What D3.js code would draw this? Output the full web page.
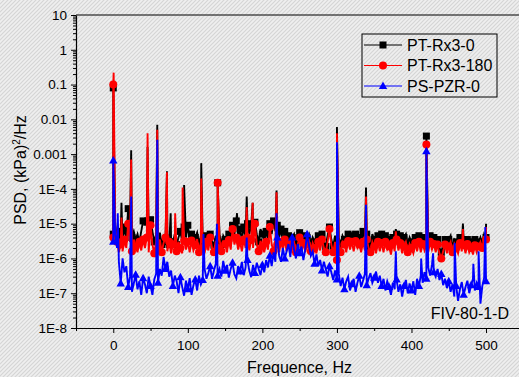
<!DOCTYPE html>
<html>
<head>
<meta charset="utf-8">
<script src="https://cdn.jsdelivr.net/npm/d3@7"></script>
<style>
  body { margin: 0; }
  svg { display: block; font-family: "Liberation Sans", Arial, sans-serif; }
</style>
</head>
<body>
<svg width="519" height="377"></svg>
<script>
// spectra sampled every 2.5 Hz from 0 to 500 Hz, one row = 50 Hz
const freqStep = 2.5;

const seriesNames = ["PT-Rx3-0", "PT-Rx3-180", "PS-PZR-0"];
const seriesColors = ["#000000", "#ff0000", "#0000ff"];
const seriesSymbols = ["square", "circle", "triangle"];
const markerEvery = [2, 2, 4];

const blackBase = [
  5e-6, 1e-5, 4e-6, 2.5e-6, 6e-6, 3e-6, 8e-6, 4e-6, 2.7e-5, 8e-6, 4e-6, 6e-6, 3.5e-6, 5e-6, 3e-6, 6e-6, 1.2e-5, 1.4e-5, 1.1e-5, 5e-6,
  1.3e-5, 6e-6, 3e-6, 5e-6, 3e-6, 5.5e-6, 2.5e-6, 4.5e-6, 3e-6, 5e-6, 2.5e-6, 4e-6, 3e-6, 5e-6, 2.5e-6, 4e-6, 6e-6, 3e-6, 8e-6, 4e-6,
  9e-6, 3.5e-6, 5e-6, 2.5e-6, 4e-6, 5.5e-6, 2.5e-6, 4.5e-6, 3e-6, 2.2e-6, 4.5e-6, 2.5e-6, 5e-6, 3e-6, 2.4e-6, 4.5e-6, 3e-6, 5e-6, 2.5e-6, 4.5e-6,
  3.5e-6, 2.5e-6, 5e-6, 3e-6, 9e-6, 5e-6, 1.2e-5, 4e-6, 7e-6, 3.5e-6, 8e-6, 4e-6, 1e-5, 5e-6, 9e-6, 4e-6, 1.1e-5, 5e-6, 3e-6, 7e-6,
  5e-6, 3e-6, 6e-6, 3.5e-6, 1e-5, 5e-6, 1.2e-5, 6e-6, 9e-6, 4e-6, 7e-6, 3e-6, 6e-6, 3e-6, 4.5e-6, 2.5e-6, 4e-6, 5e-6, 2.5e-6, 4e-6,
  5.5e-6, 2.5e-6, 4.5e-6, 2.2e-6, 4e-6, 5e-6, 2.5e-6, 4e-6, 3e-6, 2e-6, 4.5e-6, 2.5e-6, 5e-6, 3e-6, 2.2e-6, 4.5e-6, 8e-6, 3.5e-6, 2.2e-6, 4.5e-6,
  2e-6, 4e-6, 2.5e-6, 4.5e-6, 3.5e-6, 2.5e-6, 5e-6, 3e-6, 4.5e-6, 2.5e-6, 5e-6, 3e-6, 4e-6, 2.2e-6, 6e-6, 3e-6, 5e-6, 3e-6, 2.2e-6, 5e-6,
  3.5e-6, 2.2e-6, 4.5e-6, 2.5e-6, 5e-6, 2.5e-6, 4.5e-6, 3e-6, 3.5e-6, 2e-6, 4e-6, 2.5e-6, 5e-6, 3e-6, 4.5e-6, 2e-6, 4e-6, 5e-6, 2.5e-6, 4e-6,
  3e-6, 1.5e-6, 4e-6, 2.5e-6, 4.5e-6, 2.2e-6, 4e-6, 2.5e-6, 4e-6, 2.2e-6, 4.5e-6, 2.5e-6, 4e-6, 2.2e-6, 3.5e-6, 2e-6, 1.5e-6, 2.5e-6, 3.5e-6, 1.8e-6,
  3.5e-6, 4.5e-6, 2e-6, 3.5e-6, 3e-6, 1.8e-6, 4e-6, 2.2e-6, 3.5e-6, 2e-6, 3.5e-6, 1.6e-6, 3e-6, 1.5e-6, 3.5e-6, 2e-6, 3e-6, 4e-6, 2.5e-6, 5e-6,
  4e-6
];

const redBase = [
  4e-6, 8e-6, 3e-6, 1.5e-6, 2.5e-6, 1.6e-6, 3.5e-6, 2e-6, 1e-5, 3e-6, 1.6e-6, 3.5e-6, 2.2e-6, 1.5e-6, 3e-6, 1.7e-6, 3.5e-6, 2e-6, 4e-6, 1.5e-6,
  9e-6, 2.5e-6, 1.4e-6, 3e-6, 1.8e-6, 3.5e-6, 1.5e-6, 2.8e-6, 4e-6, 1.6e-6, 3e-6, 1.4e-6, 2.5e-6, 3.5e-6, 1.6e-6, 3e-6, 2e-6, 1.4e-6, 3.2e-6, 1.8e-6,
  3e-6, 1.5e-6, 3.3e-6, 1.7e-6, 2.4e-6, 3.6e-6, 1.5e-6, 3e-6, 2e-6, 1.4e-6, 3e-6, 1.7e-6, 4e-6, 2e-6, 1.5e-6, 3.2e-6, 2e-6, 3.5e-6, 1.6e-6, 3e-6,
  2.6e-6, 1.5e-6, 3.4e-6, 1.8e-6, 7e-6, 2.5e-6, 4e-6, 1.8e-6, 3e-6, 1.6e-6, 3.5e-6, 2e-6, 4e-6, 1.7e-6, 3.4e-6, 2e-6, 1e-5, 2.5e-6, 1.6e-6, 3.2e-6,
  2.2e-6, 1.5e-6, 3e-6, 1.8e-6, 8e-6, 2.5e-6, 1.6e-6, 3.5e-6, 2.5e-6, 1.5e-6, 3e-6, 1.8e-6, 3.5e-6, 1.6e-6, 2.8e-6, 1.4e-6, 2.2e-6, 3e-6, 1.5e-6, 2.6e-6,
  4e-6, 1.6e-6, 2.8e-6, 1.5e-6, 2.5e-6, 3.2e-6, 1.6e-6, 2.8e-6, 2e-6, 1.4e-6, 3e-6, 1.7e-6, 3.5e-6, 2e-6, 1.5e-6, 3e-6, 7e-6, 2.5e-6, 1.5e-6, 3e-6,
  9e-7, 2.5e-6, 1.5e-6, 3e-6, 2.5e-6, 1.5e-6, 3.2e-6, 1.8e-6, 3e-6, 1.6e-6, 3.2e-6, 2e-6, 2.5e-6, 1.5e-6, 3e-6, 1.7e-6, 3.5e-6, 2e-6, 1.5e-6, 3e-6,
  2.2e-6, 1.4e-6, 3e-6, 1.6e-6, 2.8e-6, 1.5e-6, 3e-6, 1.8e-6, 2.2e-6, 1.3e-6, 2.8e-6, 1.6e-6, 3.5e-6, 1.7e-6, 2.8e-6, 1.4e-6, 2.2e-6, 3e-6, 1.5e-6, 2.6e-6,
  2e-6, 1.4e-6, 2.8e-6, 1.6e-6, 3e-6, 1.5e-6, 2.6e-6, 1.7e-6, 2.5e-6, 1.5e-6, 3e-6, 1.8e-6, 2.6e-6, 1.5e-6, 2.5e-6, 1.4e-6, 1e-6, 1.6e-6, 2.5e-6, 1.4e-6,
  2.2e-6, 3e-6, 1.5e-6, 2.6e-6, 2e-6, 1.4e-6, 2.8e-6, 1.6e-6, 2.4e-6, 1.4e-6, 2.6e-6, 1.5e-6, 2e-6, 1.3e-6, 2.4e-6, 1.5e-6, 2.2e-6, 3e-6, 2e-6, 4e-6,
  3.5e-6
];

const blueBase = [
  3e-6, 5e-6, 2e-6, 8e-7, 1.9e-7, 1e-6, 4e-7, 6e-7, 1.5e-7, 3e-7, 1.1e-7, 1.9e-7, 3.4e-7, 1.3e-7, 2.2e-7, 9e-8, 2.7e-7, 1.8e-7, 1e-7, 3e-7,
  1.6e-7, 9e-8, 2.5e-7, 3.6e-7, 2e-7, 5e-7, 3.2e-7, 1.1e-6, 5e-7, 8e-7, 3e-7, 4.5e-7, 1.6e-7, 3.2e-7, 2.2e-7, 1e-7, 2.9e-7, 1.5e-7, 8.5e-8, 2.3e-7,
  1.3e-7, 2.7e-7, 9e-8, 1.7e-7, 2.5e-7, 1.2e-7, 3.2e-7, 1.8e-7, 2.4e-7, 5e-7, 2.6e-7, 3.8e-7, 6e-7, 2.6e-7, 4.4e-7, 7e-7, 3.2e-7, 5e-7, 3e-7, 8.5e-7,
  4.4e-7, 6.5e-7, 2.8e-7, 5e-7, 7.5e-7, 3.5e-7, 2.7e-7, 6e-7, 4.2e-7, 8e-7, 3.3e-7, 5.5e-7, 9e-7, 4.4e-7, 2.9e-7, 6.5e-7, 3.8e-7, 7.5e-7, 5e-7, 3.3e-7,
  6.5e-7, 4e-7, 9e-7, 5.5e-7, 1.2e-6, 6e-7, 1.5e-6, 8e-7, 4e-6, 1.2e-6, 8e-7, 2e-6, 1e-6, 1.6e-6, 2.6e-6, 1.1e-6, 4e-6, 1.8e-6, 1e-6, 2.6e-6,
  1.4e-6, 2.2e-6, 9e-7, 1.8e-6, 5e-6, 2.4e-6, 1.2e-6, 1.6e-6, 7e-7, 1.3e-6, 6e-7, 9e-7, 4.5e-7, 8e-7, 5e-7, 3e-7, 6e-7, 4e-7, 2.4e-7, 4.5e-7,
  2.5e-7, 3.6e-7, 1.6e-7, 2.8e-7, 1.3e-7, 2.2e-7, 3e-7, 1.2e-7, 1.8e-7, 2.6e-7, 1.1e-7, 2e-7, 3.2e-7, 1.5e-7, 2.3e-7, 3.6e-7, 1.7e-7, 2.6e-7, 3.8e-7, 2e-7,
  2.8e-7, 4.2e-7, 2e-7, 3.2e-7, 1.6e-7, 2.6e-7, 1.2e-7, 2.2e-7, 1.5e-7, 9e-8, 2e-7, 1.3e-7, 2.5e-7, 1.1e-7, 1.8e-7, 8e-8, 1.6e-7, 2.4e-7, 1e-7, 1.9e-7,
  1.2e-7, 2.2e-7, 9e-8, 2.6e-7, 1.6e-7, 3.2e-7, 2e-7, 4e-7, 2.6e-7, 5.5e-7, 3.2e-7, 6.5e-7, 4e-7, 3e-7, 5e-7, 2.4e-7, 3.6e-7, 1.7e-7, 2.6e-7, 1.4e-7,
  2.2e-7, 1.1e-7, 1.8e-7, 8e-8, 1.6e-7, 6e-8, 1.3e-7, 2.1e-7, 9e-8, 1.5e-7, 2.3e-7, 1e-7, 1.7e-7, 2.6e-7, 1.2e-7, 2e-7, 1.5e-7, 5e-8, 1.6e-7, 2.8e-7,
  2.2e-7
];

// narrow spectral peaks: [Hz, PSD, has symbol]
const blackPeaks = [
  [0, 0.08, true], [11, 4e-5], [24, 1.3e-3], [46, 1.6e-3], [59, 7e-3], [72, 3.2e-4], [77, 2e-5],
  [95, 1.3e-4], [118, 5.5e-4], [140, 1.5e-4, true], [166, 2e-5], [179, 6e-5], [187, 4e-5],
  [219, 9e-5], [300, 6e-3], [339, 1.1e-4], [379, 7e-6], [420, 3.3e-3, true], [469, 1e-5], [500, 1e-5]
];
const redPeaks = [
  [0, 0.1, true], [0.5, 0.22], [11, 1.5e-5], [24, 7e-4], [46, 4e-3], [59, 5e-3], [72, 3e-4],
  [83, 2e-5], [93, 1.1e-4], [118, 2e-4], [140, 1.5e-4, true], [179, 3e-5], [187, 4e-5],
  [219, 8e-5], [300, 4e-3], [339, 6e-5], [379, 6e-6], [420, 1.9e-3, true], [469, 7e-6], [500, 8e-6]
];
const bluePeaks = [
  [0, 6.6e-4, true], [0.5, 3e-4], [6, 2e-5], [24, 6e-5], [59, 2.6e-3], [121, 5e-6], [139, 1e-5],
  [179, 4e-6], [219, 2e-5], [300, 2.2e-3], [339, 3.5e-5], [379, 1.6e-6], [413, 1e-6],
  [420, 1.2e-3, true], [429, 1.4e-6], [458, 2.8e-6], [483, 7e-7], [490, 1.6e-6], [499, 8e-6]
];

const xTicks = [0, 100, 200, 300, 400, 500];
const yTicks = [1e-8, 1e-7, 1e-6, 1e-5, 1e-4, 1e-3, 1e-2, 0.1, 1, 10];
const yTickLabels = ["1E-8", "1E-7", "1E-6", "1E-5", "1E-4", "0.001", "0.01", "0.1", "1", "10"];

const $svg = d3.select("svg");
const width = +$svg.attr("width");
const height = +$svg.attr("height");

const plotLeft = 76, plotRight = 523.3, plotTop = 15, plotBottom = 328;
const x = d3.scaleLinear().domain([-50, 550]).range([plotLeft, plotRight]);
const y = d3.scaleLog().domain([1e-8, 10]).range([plotBottom, plotTop]);

// hatched background
const defs = $svg.append("defs");
const pat = defs.append("pattern")
  .attr("id", "hatch")
  .attr("width", 4).attr("height", 4)
  .attr("patternUnits", "userSpaceOnUse");
pat.append("rect").attr("width", 4).attr("height", 4).attr("fill", "#efefef");
pat.append("path")
  .attr("d", "M-1,1 L1,-1 M0,4 L4,0 M3,5 L5,3")
  .attr("stroke", "#d5d5d5")
  .attr("stroke-width", 1.2);
defs.append("clipPath").attr("id", "plotClip")
  .append("rect")
  .attr("x", plotLeft).attr("y", plotTop)
  .attr("width", plotRight - plotLeft).attr("height", plotBottom - plotTop);

$svg.append("rect").attr("width", width).attr("height", height).attr("fill", "url(#hatch)");

function buildPoints(base, peaks, every) {
  const pts = base.map((v, i) => ({ f: i * freqStep, v: v, m: i % every === 0, p: 0 }));
  peaks.forEach(pk => pts.push({ f: pk[0], v: pk[1], m: !!pk[2], p: 1 }));
  pts.sort((a, b) => a.f - b.f || a.p - b.p);
  return pts;
}

const seriesData = [
  buildPoints(blackBase, blackPeaks, markerEvery[0]),
  buildPoints(redBase, redPeaks, markerEvery[1]),
  buildPoints(blueBase, bluePeaks, markerEvery[2])
];

const line = d3.line().x(d => x(d.f)).y(d => y(d.v));

function drawSymbol(sel, kind, color) {
  if (kind === "square") {
    sel.append("rect").attr("x", -3.5).attr("y", -3.5).attr("width", 7).attr("height", 7).attr("fill", color);
  } else if (kind === "circle") {
    sel.append("circle").attr("r", 4).attr("fill", color);
  } else {
    sel.append("path").attr("d", "M0,-4.5L4.2,3L-4.2,3Z").attr("fill", color);
  }
}

const plotG = $svg.append("g").attr("clip-path", "url(#plotClip)");

seriesData.forEach((pts, si) => {
  const g = plotG.append("g").attr("class", "series");
  g.append("path")
    .datum(pts)
    .attr("d", line)
    .attr("fill", "none")
    .attr("stroke", seriesColors[si])
    .attr("stroke-width", 1.9)
    .attr("stroke-linejoin", "miter");
  g.selectAll("g.mk")
    .data(pts.filter(d => d.m))
    .enter()
    .append("g")
    .attr("class", "mk")
    .attr("transform", d => `translate(${x(d.f)},${y(d.v)})`)
    .each(function () { drawSymbol(d3.select(this), seriesSymbols[si], seriesColors[si]); });
});

// axes
const minorY = [];
yTicks.slice(0, -1).forEach(t => { for (let k = 2; k <= 9; k++) minorY.push(t * k); });

$svg.append("g")
  .attr("transform", `translate(${plotLeft},0)`)
  .call(d3.axisLeft(y).tickValues(minorY).tickSize(3).tickFormat("").tickSizeOuter(0))
  .call(g => g.select(".domain").remove());

const yAxis = $svg.append("g")
  .attr("transform", `translate(${plotLeft},0)`)
  .call(d3.axisLeft(y).tickValues(yTicks).tickFormat((d, i) => yTickLabels[i]).tickSize(5).tickPadding(4).tickSizeOuter(0));

$svg.append("g")
  .attr("transform", `translate(0,${plotBottom})`)
  .call(d3.axisBottom(x).tickValues([-50, 50, 150, 250, 350, 450, 550]).tickSize(3).tickFormat("").tickSizeOuter(0))
  .call(g => g.select(".domain").remove());

const xAxis = $svg.append("g")
  .attr("transform", `translate(0,${plotBottom})`)
  .call(d3.axisBottom(x).tickValues(xTicks).tickSize(5).tickPadding(7).tickSizeOuter(0));

[yAxis, xAxis].forEach(a => {
  a.selectAll("text").attr("font-size", 13.5).attr("fill", "#000").attr("font-family", "Liberation Sans, Arial, sans-serif");
  a.select(".domain").attr("stroke-width", 1.2);
});

$svg.append("line")
  .attr("x1", plotLeft).attr("x2", plotRight)
  .attr("y1", plotTop).attr("y2", plotTop)
  .attr("stroke", "#000").attr("stroke-width", 1.2);

// axis titles
const yTitle = $svg.append("text")
  .attr("transform", "translate(25.5,170) rotate(-90)")
  .attr("text-anchor", "middle")
  .attr("font-size", 16);
yTitle.append("tspan").text("PSD, (kPa)");
yTitle.append("tspan").attr("font-size", 10).attr("dy", -6).text("2");
yTitle.append("tspan").attr("dy", 6).text("/Hz");

$svg.append("text")
  .attr("x", 299.5).attr("y", 373)
  .attr("text-anchor", "middle")
  .attr("font-size", 16)
  .text("Frequence, Hz");

$svg.append("text")
  .attr("x", 509).attr("y", 319)
  .attr("text-anchor", "end")
  .attr("font-size", 16)
  .text("FIV-80-1-D");

// legend
const legend = $svg.append("g").attr("transform", "translate(362,34)");
legend.append("rect")
  .attr("width", 135).attr("height", 63)
  .attr("fill", "none").attr("stroke", "#000").attr("stroke-width", 1);
seriesNames.forEach((name, i) => {
  const row = legend.append("g").attr("transform", `translate(0,${11 + i * 20.5})`);
  row.append("line").attr("x1", 2).attr("x2", 40).attr("stroke", seriesColors[i]).attr("stroke-width", 1.2);
  drawSymbol(row.append("g").attr("transform", "translate(21,0)"), seriesSymbols[i], seriesColors[i]);
  row.append("text").attr("x", 45).attr("y", 5.7).attr("font-size", 16).text(name);
});
</script>
</body>
</html>
